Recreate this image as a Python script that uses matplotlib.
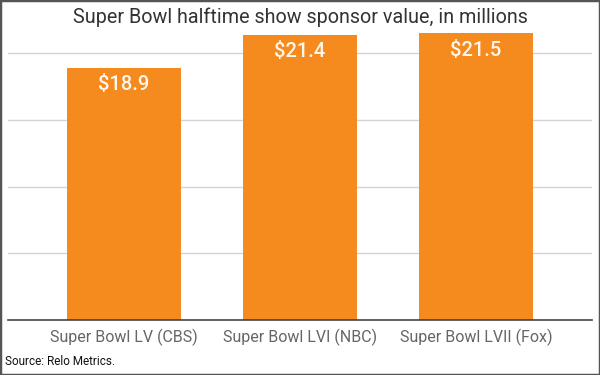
import matplotlib.pyplot as plt
from matplotlib.patches import Rectangle

plt.rcParams['font.family'] = ['Roboto', 'DejaVu Sans']

categories = ["Super Bowl LV (CBS)", "Super Bowl LVI (NBC)", "Super Bowl LVII (Fox)"]
values = [18.9, 21.4, 21.5]
labels = ["$18.9", "$21.4", "$21.5"]

fig = plt.figure(figsize=(6, 3.75), dpi=100)
ax = fig.add_axes([0.0133, 0.1467, 0.9733, 0.7733])

x = list(range(len(categories)))
ax.bar(x, values, width=0.65, color="#F58A1F", zorder=2)

for xi, v, lab in zip(x, values, labels):
    ax.text(xi, v - 0.55, lab, ha="center", va="top", color="#FFF6EC",
            fontsize=14.5, fontweight="medium")

ax.set_xlim(-0.66, 2.66)
ax.set_ylim(0, 21.75)
ax.set_yticks([5, 10, 15, 20])
ax.yaxis.grid(True, color="#d4d4d4", linewidth=1, zorder=0)
ax.tick_params(axis="y", left=False, labelleft=False)
ax.tick_params(axis="x", length=0, pad=6, labelsize=11.5, labelcolor="#666666")
ax.set_xticks(x)
ax.set_xticklabels(categories)
for s in ["top", "right", "left"]:
    ax.spines[s].set_visible(False)
ax.spines["bottom"].set_color("#444444")
ax.spines["bottom"].set_linewidth(1.2)
ax.spines["bottom"].set_zorder(3)

fig.text(0.5, 0.955, "Super Bowl halftime show sponsor value, in millions",
         ha="center", va="center", fontsize=14.2, color="#333333")
fig.text(0.008, 0.035, "Source: Relo Metrics.", ha="left", va="center",
         fontsize=8.5, color="#111111")

fig.patches.append(Rectangle((0, 0), 1, 1, transform=fig.transFigure,
                             fill=False, edgecolor="#555555", linewidth=2.5))

fig.savefig("out.png", dpi=100)
